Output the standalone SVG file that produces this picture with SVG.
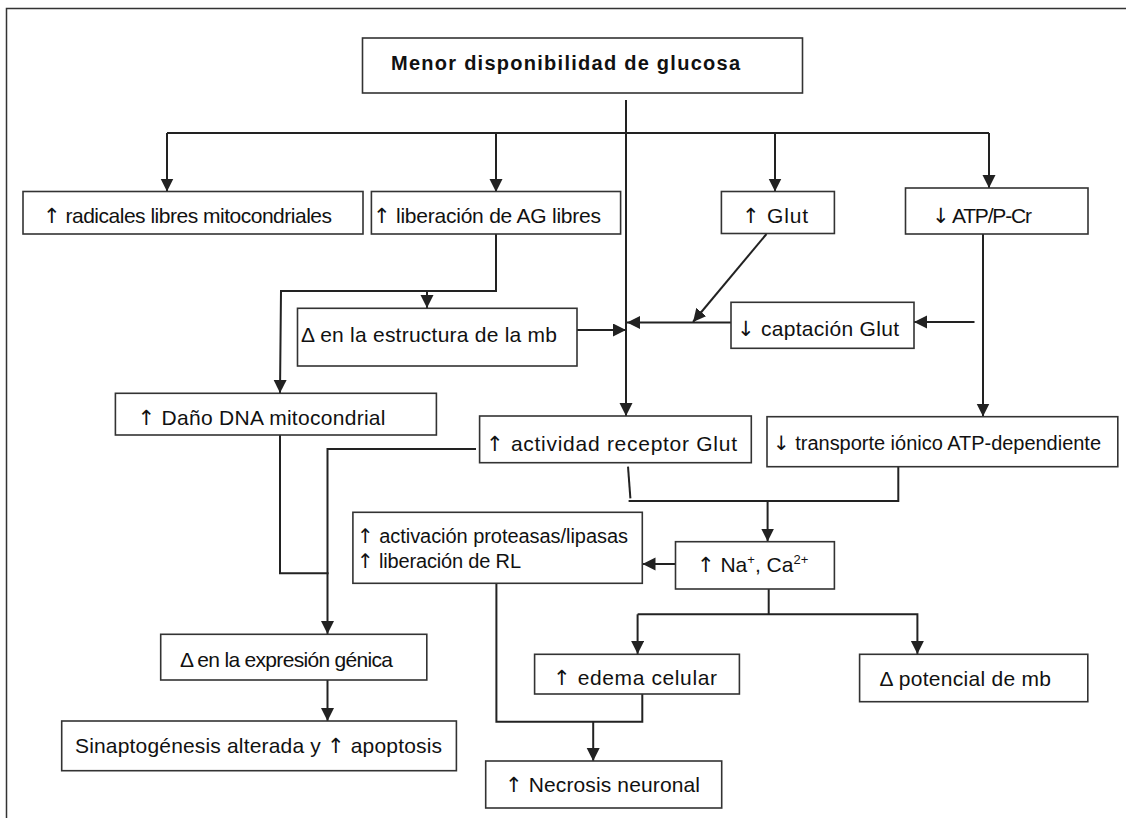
<svg xmlns="http://www.w3.org/2000/svg" width="1126" height="818" viewBox="0 0 1126 818">
<style>
.box{fill:#fff;stroke:#333;stroke-width:1.6}
.c{fill:none;stroke:#222;stroke-width:2}
.a{marker-end:url(#ah)}
text{font-family:"Liberation Sans",Arial,sans-serif;font-size:21px;fill:#111}
.t{font-weight:bold;font-size:20px}
.s{font-size:20px}
.ar{font-family:"DejaVu Sans",sans-serif;font-weight:normal}
</style>
<defs>
<marker id="ah" markerUnits="userSpaceOnUse" markerWidth="14" markerHeight="14" refX="13" refY="6.5" orient="auto">
<path d="M0,0 L13,6.5 L0,13 Z" fill="#222"/>
</marker>
</defs>
<rect x="6.5" y="8.5" width="1130" height="830" fill="#fff" stroke="#333" stroke-width="1.5"/>
<g id="connectors">
<path class="c a" d="M626,100 V416"/>
<path class="c" d="M167,133 H989"/>
<path class="c a" d="M167,133 V191.5"/>
<path class="c a" d="M496,133 V192"/>
<path class="c a" d="M775,133 V191.5"/>
<path class="c a" d="M989,133 V188"/>
<path class="c a" d="M496,234 V291 H281 L280,393"/>
<path class="c a" d="M427,291 V308"/>
<path class="c a" d="M577,330 H626"/>
<path class="c a" d="M731,322.5 H627"/>
<path class="c a" d="M766.5,234 L693,322"/>
<path class="c a" d="M974.5,322 H914"/>
<path class="c a" d="M983,234 V416.5"/>
<path class="c" d="M280,435 V573.3 H328.6"/>
<path class="c a" d="M476,449 H327.5 V634"/>
<path class="c a" d="M327.5,680 V721"/>
<path class="c" d="M628,466.7 L630.4,498.3"/>
<path class="c" d="M628.6,501 H898.3 V466.7"/>
<path class="c a" d="M767.6,501 V541.5"/>
<path class="c a" d="M675.5,564 H642.5"/>
<path class="c" d="M496.4,583.3 V721.7 H642.3 V694"/>
<path class="c a" d="M593.2,721.7 V761"/>
<path class="c" d="M768.7,589 V614.3"/>
<path class="c a" d="M637.6,614.3 H917.4 V654"/>
<path class="c a" d="M637.6,614.3 V654"/>
</g>
<g id="n_top"><rect class="box" x="362.5" y="38" width="440" height="55"/><text class="t" x="391" y="70" textLength="349">Menor disponibilidad de glucosa</text></g>
<g id="n_radicales"><rect class="box" x="23" y="191.5" width="340" height="42.5"/><text x="43" y="222.5" textLength="289"><tspan class="ar">↑</tspan> radicales libres mitocondriales</text></g>
<g id="n_liberacion"><rect class="box" x="371.4" y="191.5" width="249.2" height="42.5"/><text x="373" y="222.5" textLength="228"><tspan class="ar">↑</tspan> liberación de AG libres</text></g>
<g id="n_glut"><rect class="box" x="721.4" y="191.5" width="113" height="42"/><text x="742" y="222.5" textLength="66"><tspan class="ar">↑</tspan> Glut</text></g>
<g id="n_atp"><rect class="box" x="905.5" y="188" width="182.5" height="46"/><text x="932" y="222.5" textLength="100"><tspan class="ar">↓</tspan> ATP/P-Cr</text></g>
<g id="n_estructura"><rect class="box" x="297.5" y="308.3" width="279.5" height="57.7"/><text x="301" y="341.5" textLength="256">Δ en la estructura de la mb</text></g>
<g id="n_captacion"><rect class="box" x="731" y="302.3" width="183" height="46"/><text x="737" y="336" textLength="162"><tspan class="ar">↓</tspan> captación Glut</text></g>
<g id="n_dano"><rect class="box" x="115.4" y="393.3" width="321" height="41.7"/><text x="137.5" y="425" textLength="248"><tspan class="ar">↑</tspan> Daño DNA mitocondrial</text></g>
<g id="n_actividad"><rect class="box" x="479.6" y="416" width="271.7" height="46.7"/><text x="486" y="450.5" textLength="251"><tspan class="ar">↑</tspan> actividad receptor Glut</text></g>
<g id="n_transporte"><rect class="box" x="767" y="416.7" width="350.8" height="50"/><text class="s" x="773" y="450" textLength="328"><tspan class="ar">↓</tspan> transporte iónico ATP-dependiente</text></g>
<g id="n_proteasas"><rect class="box" x="352.9" y="512.3" width="289.4" height="71"/><text class="s" x="357" y="542.5" textLength="271"><tspan class="ar">↑</tspan> activación proteasas/lipasas</text><text class="s" x="357" y="568" textLength="164"><tspan class="ar">↑</tspan> liberación de RL</text></g>
<g id="n_na"><rect class="box" x="675.5" y="541.7" width="158.9" height="47.3"/><text x="697" y="571.5"><tspan class="ar">↑</tspan> Na<tspan font-size="13" dy="-8">+</tspan><tspan dy="8">, Ca</tspan><tspan font-size="13" dy="-8">2+</tspan></text></g>
<g id="n_expresion"><rect class="box" x="160.7" y="634.3" width="266.1" height="45.7"/><text x="180" y="666.5" textLength="213">Δ en la expresión génica</text></g>
<g id="n_edema"><rect class="box" x="534.6" y="654.3" width="204.8" height="39.7"/><text x="553" y="684.5" textLength="164"><tspan class="ar">↑</tspan> edema celular</text></g>
<g id="n_potencial"><rect class="box" x="859.6" y="654.3" width="228.2" height="47.4"/><text x="879.5" y="685.5" textLength="171.5">Δ potencial de mb</text></g>
<g id="n_sinapto"><rect class="box" x="61.7" y="721" width="394.7" height="49.7"/><text x="75" y="753" textLength="367">Sinaptogénesis alterada y <tspan class="ar">↑</tspan> apoptosis</text></g>
<g id="n_necrosis"><rect class="box" x="485.7" y="761" width="236" height="47"/><text x="505" y="792" textLength="195"><tspan class="ar">↑</tspan> Necrosis neuronal</text></g>
</svg>
